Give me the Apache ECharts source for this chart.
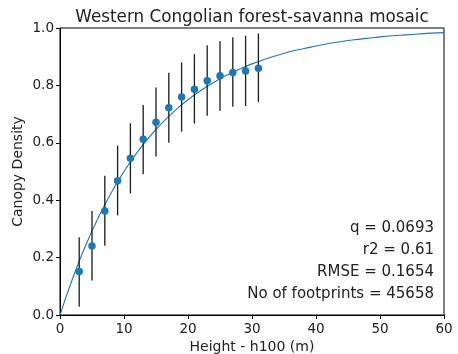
<!DOCTYPE html>
<html>
<head>
<meta charset="utf-8">
<script src="https://cdn.jsdelivr.net/npm/echarts@6/dist/echarts.min.js"></script>
<style>html,body{margin:0;padding:0;background:#fff}#c{width:458px;height:354px}</style>
</head>
<body>
<div id="c"></div>
<script>
// Binned observations
const heights = [3, 5, 7, 9, 11, 13, 15, 17, 19, 21, 23, 25, 27, 29, 31];
const meanDensity = [0.152, 0.240, 0.362, 0.468, 0.546, 0.612, 0.672, 0.722, 0.760, 0.787, 0.816, 0.834, 0.845, 0.850, 0.860];
const errLow = [0.029, 0.120, 0.241, 0.347, 0.424, 0.490, 0.552, 0.600, 0.639, 0.667, 0.694, 0.712, 0.726, 0.728, 0.742];
const errHigh = [0.271, 0.362, 0.485, 0.590, 0.668, 0.732, 0.793, 0.844, 0.880, 0.909, 0.940, 0.954, 0.968, 0.973, 0.981];
// Fitted curve
const curveX = [0, 2, 4, 6, 8, 10, 12, 14, 16, 18, 20, 22, 24, 26, 28, 30, 32, 34, 36, 38, 40, 42, 44, 46, 48, 50, 52, 54, 56, 58, 60];
const curveY = [0, 0.129, 0.242, 0.340, 0.426, 0.500, 0.565, 0.621, 0.670, 0.713, 0.750, 0.782, 0.810, 0.835, 0.856, 0.875, 0.891, 0.905, 0.918, 0.928, 0.937, 0.946, 0.953, 0.959, 0.964, 0.969, 0.973, 0.976, 0.979, 0.982, 0.984];
const xTicks = [0, 10, 20, 30, 40, 50, 60];
const yTicks = [0.0, 0.2, 0.4, 0.6, 0.8, 1.0];
const statLines = ['q = 0.0693', 'r2 = 0.61', 'RMSE = 0.1654', 'No of footprints = 45658'];

const FONT = 'DejaVu Sans';
const chart = echarts.init(document.getElementById('c'), null, {renderer: 'canvas'});
const blue = '#1f77b4';

chart.setOption({
  animation: false,
  backgroundColor: '#fff',
  title: {
    text: 'Western Congolian forest-savanna mosaic',
    left: 247, top: 4, textAlign: 'center',
    textStyle: {fontFamily: FONT, fontSize: 16.8, fontWeight: 'normal', color: '#222'}
  },
  grid: {left: 60, right: 14, top: 28, bottom: 39, show: true, borderColor: '#000', borderWidth: 1,
         backgroundColor: 'transparent', containLabel: false, outerBoundsMode: 'none'},
  xAxis: {
    type: 'value', min: xTicks[0], max: xTicks[xTicks.length - 1], interval: 10,
    name: 'Height - h100 (m)', nameLocation: 'middle', nameGap: 25, nameMoveOverlap: false,
    nameTextStyle: {fontFamily: FONT, fontSize: 14, color: '#222'},
    axisLine: {show: true, lineStyle: {color: '#000', width: 1}},
    axisTick: {show: true, length: 4, lineStyle: {color: '#000'}},
    axisLabel: {fontFamily: FONT, fontSize: 13.5, color: '#222', margin: 7},
    splitLine: {show: false}
  },
  yAxis: {
    type: 'value', min: yTicks[0], max: yTicks[yTicks.length - 1], interval: 0.2,
    name: 'Canopy Density', nameLocation: 'middle', nameGap: 35, nameMoveOverlap: false,
    nameTextStyle: {fontFamily: FONT, fontSize: 14, color: '#222'},
    axisLine: {show: true, lineStyle: {color: '#000', width: 1}},
    axisTick: {show: true, length: 4, lineStyle: {color: '#000'}},
    axisLabel: {fontFamily: FONT, fontSize: 13.5, color: '#222', margin: 6, formatter: v => v.toFixed(1)},
    splitLine: {show: false}
  },
  series: [
    {
      type: 'line', data: curveX.map((x, i) => [x, curveY[i]]), smooth: true,
      showSymbol: false, lineStyle: {color: blue, width: 1.1}, z: 2
    },
    {
      type: 'custom',
      data: heights.map((h, i) => [h, errLow[i], errHigh[i]]),
      renderItem: function (params, api) {
        const lo = api.coord([api.value(0), api.value(1)]);
        const hi = api.coord([api.value(0), api.value(2)]);
        return {type: 'line', shape: {x1: lo[0], y1: lo[1], x2: hi[0], y2: hi[1]},
                style: {stroke: '#1a1a1a', lineWidth: 1.3}};
      },
      z: 3
    },
    {
      type: 'scatter', data: heights.map((h, i) => [h, meanDensity[i]]),
      symbolSize: 7.5, itemStyle: {color: blue, opacity: 1}, z: 4
    }
  ],
  graphic: statLines.map((t, i) => ({
    type: 'text', right: 24, top: 221 + i * 21.8,
    style: {text: t, fontFamily: FONT, fontSize: 15, fill: '#222', textAlign: 'right'}
  }))
});
</script>
</body>
</html>
